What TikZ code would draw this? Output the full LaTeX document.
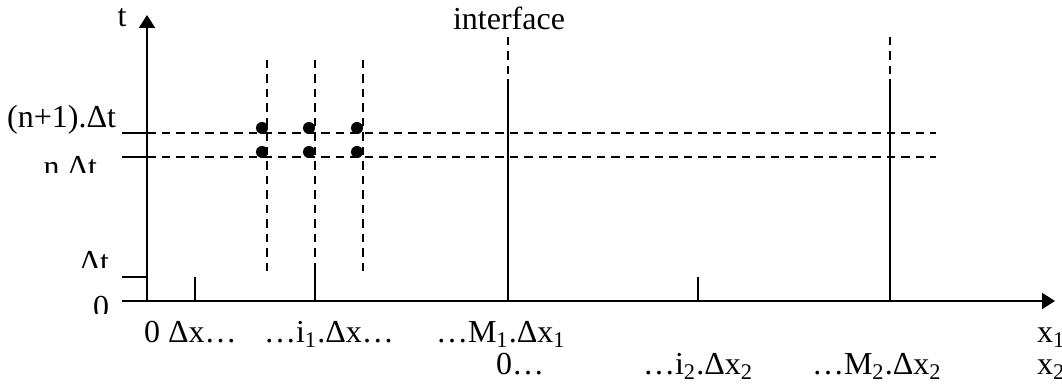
\documentclass[tikz,border=0pt]{standalone}
\usepackage{fontspec}
\setmainfont{Liberation Serif}
\usetikzlibrary{arrows.meta}

\begin{document}
\begin{tikzpicture}[
  x=0.4pt, y=-0.4pt,
  font=\fontsize{12.8}{15}\selectfont,
  line width=0.8pt,
  axis/.style={-{Triangle[length=5.2pt,width=6.4pt]}},
  grid/.style={dash pattern=on 3.4pt off 2.4pt},
  lab/.style={inner sep=0pt, anchor=base west},
  rlab/.style={inner sep=0pt, anchor=base east},
  dot/.style={circle, fill, inner sep=0pt, minimum size=4.8pt},
]
\useasboundingbox (0,0) rectangle (1062,390);
% axes
\coordinate (O) at (147,301);
\coordinate (ttop) at (147,15);
\coordinate (xstart) at (122,301);
\coordinate (xend) at (1055,301);
\draw[axis] (O) -- (ttop);
\draw[axis] (xstart) -- (xend);
\node[lab, anchor=base] (tlab) at (122,27) {t};
% time levels
\draw (122,277) -- (147,277);
\foreach \y in {133,157} {
  \draw (122,\y) -- (O |- 0,\y);
  \draw[grid] (O |- 0,\y) -- (936,\y);
}
% grid columns around i_1
\foreach \x in {267,315,363}
  \draw[grid] (\x,60) -- (\x,277);
\draw (195,277) -- (195,301);
\draw (315,271) -- (315,301);
\draw (698,277) -- (698,301);
% interface and right boundary
\foreach \x in {508,890} {
  \draw[grid] (\x,37) -- (\x,76);
  \draw (\x,79) -- (\x,301);
}
\node[lab, anchor=base] (iface) at (509,30) {interface};
% unknowns
\foreach \x [count=\k] in {262,309,357} {
  \node[dot] (up\k) at (\x,128) {};
  \node[dot] (dn\k) at (\x,152) {};
}
% t labels (cut at the bottom)
\node[rlab] (np1) at (117,128) {(n+1).Δt};
\begin{scope}
  \clip (0,150) rectangle (120,173);
  \node[rlab] (nlev) at (98,178) {n.Δt};
\end{scope}
\begin{scope}
  \clip (0,250) rectangle (120,268);
  \node[rlab] (dt) at (110,273) {Δt};
\end{scope}
\begin{scope}
  \clip (0,290) rectangle (120,314);
  \node[rlab] (zero) at (110,318) {0};
\end{scope}
% x labels
\node[lab] (x1a) at (143,343) {0 Δx…};
\node[lab] (x1b) at (263,343) {…i\textsubscript{1}.Δx…};
\node[lab] (x1c) at (435,343) {…M\textsubscript{1}.Δx\textsubscript{1}};
\node[lab] (x1) at (1036,343) {x\textsubscript{1}};
\node[lab] (x2a) at (495,375) {0…};
\node[lab] (x2b) at (642,375) {…i\textsubscript{2}.Δx\textsubscript{2}};
\node[lab] (x2c) at (811,375) {…M\textsubscript{2}.Δx\textsubscript{2}};
\node[lab] (x2) at (1036,375) {x\textsubscript{2}};
\end{tikzpicture}
\end{document}
